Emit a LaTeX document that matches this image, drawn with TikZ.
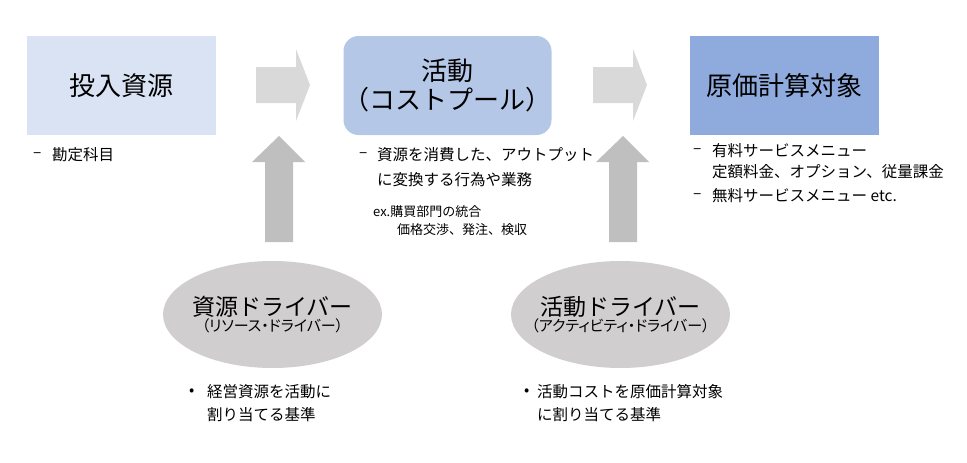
\documentclass[tikz,border=0pt]{standalone}
\usepackage{xcolor}
\usepackage{fontspec}
\usepackage{tikz}
\usetikzlibrary{shapes.geometric}
\setmainfont{Noto Sans CJK JP}
\newfontfamily\propfont{Noto Sans CJK JP}[RawFeature=+palt]
\definecolor{inputblue}{HTML}{DAE3F3}
\definecolor{poolblue}{HTML}{B4C7E7}
\definecolor{objblue}{HTML}{8FAADC}
\definecolor{flowgray}{HTML}{D9D9D9}
\definecolor{upgray}{HTML}{BFBFBF}
\definecolor{drivergray}{HTML}{D0CECE}
\tikzset{
  costbox/.style={minimum width=189pt, minimum height=99pt, inner sep=0pt,
    align=center, font=\fontsize{26}{29}\selectfont},
  driver/.style={ellipse, fill=drivergray, minimum width=219pt, minimum height=107pt,
    inner sep=0pt},
  drivertext/.style={align=center, inner sep=0pt},
  note/.style={anchor=west, inner sep=0pt, font=\fontsize{15.5}{17}\selectfont},
  smallnote/.style={anchor=west, inner sep=0pt, font=\fontsize{13}{15}\selectfont}
}

\begin{document}
\begin{tikzpicture}[x=1pt,y=-1pt]
	\useasboundingbox (0,0) rectangle (967,463);
	% boxes
	\node[costbox, fill=inputblue] (input) at (121.5,85.5) {投入資源};
	\node[costbox, fill=poolblue, rounded corners=15pt] (pool) at (447.5,85.5) {活動\\（コストプール）};
	\node[costbox, fill=objblue] (object) at (784.5,85.5) {原価計算対象};
	% flow arrows
	\fill[flowgray] (256,67) -- (296,67) -- (296,49) -- (310,85) -- (296,121) -- (296,103) -- (256,103) -- cycle;
	\fill[flowgray] (593,67) -- (633,67) -- (633,49) -- (647,85) -- (633,121) -- (633,103) -- (593,103) -- cycle;
	\fill[upgray] (265,242) -- (265,162) -- (252,162) -- (279,136) -- (305,162) -- (293,162) -- (293,242) -- cycle;
	\fill[upgray] (609,242) -- (609,162) -- (596,162) -- (623,136) -- (649,162) -- (637,162) -- (637,242) -- cycle;
	% drivers
	\node[driver] (resdriver) at (272.5,314.5) {};
	\node[drivertext] (restitle) at (resdriver.center) {{\fontsize{23}{27}\selectfont 資源ドライバー}\\{\propfont\fontsize{15}{19}\selectfont （リソース・ドライバー）}};
	\node[driver] (actdriver) at (620.5,314.5) {};
	\node[drivertext] (acttitle) at (actdriver.center) {{\fontsize{23}{27}\selectfont 活動ドライバー}\\{\propfont\fontsize{15}{19}\selectfont （アクティビティ・ドライバー）}};
	% notes
	\node[note] (inputdash) at (33,155) {–};
	\node[note] (inputtext) at (52,155) {勘定科目};
	\node[note] (pooldash) at (359,155) {–};
	\node[note] (pooltext) at (377,155) {資源を消費した、アウトプット};
	\node[note] (pooltext2) at (377,180) {に変換する行為や業務};
	\node[smallnote] (poolex) at (373,212) {ex.購買部門の統合};
	\node[smallnote] (poolex2) at (397,230) {価格交渉、発注、検収};
	\node[note] (objdash) at (693,151) {–};
	\node[note] (objtext) at (712,151) {有料サービスメニュー};
	\node[note] (objtext2) at (712,172) {定額料金、オプション、従量課金};
	\node[note] (objdash2) at (693,196) {–};
	\node[note] (objtext3) at (712,196) {無料サービスメニュー etc.};
	\node[note] (resdot) at (189,392) {•};
	\node[note] (restext) at (207,392) {経営資源を活動に};
	\node[note] (restext2) at (207,415) {割り当てる基準};
	\node[note] (actdot) at (524,392) {•};
	\node[note] (acttext) at (537,392) {活動コストを原価計算対象};
	\node[note] (acttext2) at (537,415) {に割り当てる基準};
\end{tikzpicture}
\end{document}
